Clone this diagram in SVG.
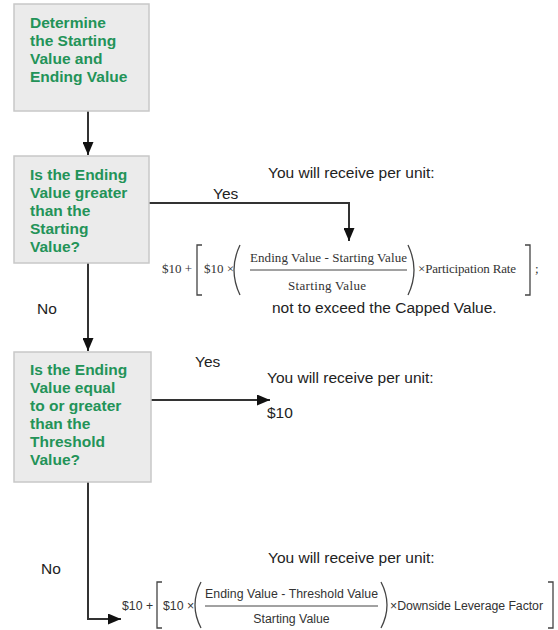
<svg xmlns="http://www.w3.org/2000/svg" width="558" height="630" viewBox="0 0 558 630">
<style>
.box{fill:#ebebeb;stroke:#c8c8c8;stroke-width:1.5}
.bt{font-family:"Liberation Sans",Arial,sans-serif;font-weight:bold;font-size:15.5px;fill:#239358}
.lbl{font-family:"Liberation Sans",Arial,sans-serif;font-size:15.5px;fill:#222}
.tm{font-family:"Liberation Serif","Times New Roman",serif;font-size:13px;fill:#333}
.ar{font-family:"Liberation Sans",Arial,sans-serif;font-size:12.3px;fill:#333}
.conn{fill:none;stroke:#333;stroke-width:2}
.br{fill:none;stroke:#444;stroke-width:1.3}
</style>
<defs>
<marker id="ah" markerUnits="userSpaceOnUse" markerWidth="13" markerHeight="11" refX="13" refY="5.5" orient="auto">
<path d="M0,0 L13,5.5 L0,11 z" fill="#111"/>
</marker>
</defs>
<rect width="558" height="630" fill="#fff"/>
<g id="connectors">
<path class="conn" d="M88,111 V155" marker-end="url(#ah)"/>
<path class="conn" d="M149,203 H349 V241" marker-end="url(#ah)"/>
<path class="conn" d="M88,263 V351" marker-end="url(#ah)"/>
<path class="conn" d="M151,400 H270" marker-end="url(#ah)"/>
<path class="conn" d="M88,482 V619 H121" marker-end="url(#ah)"/>
<text class="lbl" x="213" y="199">Yes</text>
<text class="lbl" x="37" y="314">No</text>
<text class="lbl" x="195" y="367">Yes</text>
<text class="lbl" x="41" y="574">No</text>
</g>
<g id="node-start">
<rect class="box" x="14" y="4" width="135" height="107"/>
<text class="bt" x="30" y="27.5">Determine</text>
<text class="bt" x="30" y="45.5">the Starting</text>
<text class="bt" x="30" y="63.5">Value and</text>
<text class="bt" x="30" y="81.5">Ending Value</text>
</g>
<g id="node-decision1">
<rect class="box" x="14" y="156" width="135" height="107"/>
<text class="bt" x="30" y="180">Is the Ending</text>
<text class="bt" x="30" y="198">Value greater</text>
<text class="bt" x="30" y="216">than the</text>
<text class="bt" x="30" y="234">Starting</text>
<text class="bt" x="30" y="252">Value?</text>
</g>
<g id="node-decision2">
<rect class="box" x="14" y="352" width="137" height="130"/>
<text class="bt" x="30" y="375">Is the Ending</text>
<text class="bt" x="30" y="393">Value equal</text>
<text class="bt" x="30" y="411">to or greater</text>
<text class="bt" x="30" y="429">than the</text>
<text class="bt" x="30" y="447">Threshold</text>
<text class="bt" x="30" y="465">Value?</text>
</g>
<g id="result1">
<text class="lbl" x="268" y="178">You will receive per unit:</text>
<text class="tm" x="162" y="273">$10 +</text>
<path class="br" d="M202,245 H197 V295 H202"/>
<text class="tm" x="204" y="273">$10 ×</text>
<path class="br" d="M240,245 Q228,270 240,295"/>
<text class="tm" x="250" y="262" textLength="157" lengthAdjust="spacing">Ending  Value - Starting  Value</text>
<line x1="250" y1="270" x2="407" y2="270" stroke="#444" stroke-width="1"/>
<text class="tm" x="327" y="290" text-anchor="middle" textLength="78" lengthAdjust="spacing">Starting  Value</text>
<path class="br" d="M408,245 Q420,270 408,295"/>
<text class="tm" x="418" y="273" textLength="98" lengthAdjust="spacing">×Participation Rate</text>
<path class="br" d="M525,245 H530 V295 H525"/>
<text class="tm" x="535" y="273">;</text>
<text class="lbl" x="272" y="313">not to exceed the Capped Value.</text>
</g>
<g id="result2">
<text class="lbl" x="267" y="383">You will receive per unit:</text>
<text class="lbl" x="267" y="418">$10</text>
</g>
<g id="result3">
<text class="lbl" x="268" y="563">You will receive per unit:</text>
<text class="ar" x="122" y="610">$10 +</text>
<path class="br" d="M162,582 H157 V628 H162"/>
<text class="ar" x="163" y="610">$10 ×</text>
<path class="br" d="M201,582 Q189,605 201,628"/>
<text class="ar" x="205" y="598" textLength="173" lengthAdjust="spacing">Ending Value - Threshold Value</text>
<line x1="205" y1="606" x2="378" y2="606" stroke="#444" stroke-width="1"/>
<text class="ar" x="291.5" y="623" text-anchor="middle">Starting Value</text>
<path class="br" d="M381,582 Q393,605 381,628"/>
<text class="ar" x="390" y="610" textLength="153" lengthAdjust="spacing">×Downside Leverage Factor</text>
<path class="br" d="M548,582 H553 V628 H548"/>
</g>
</svg>
